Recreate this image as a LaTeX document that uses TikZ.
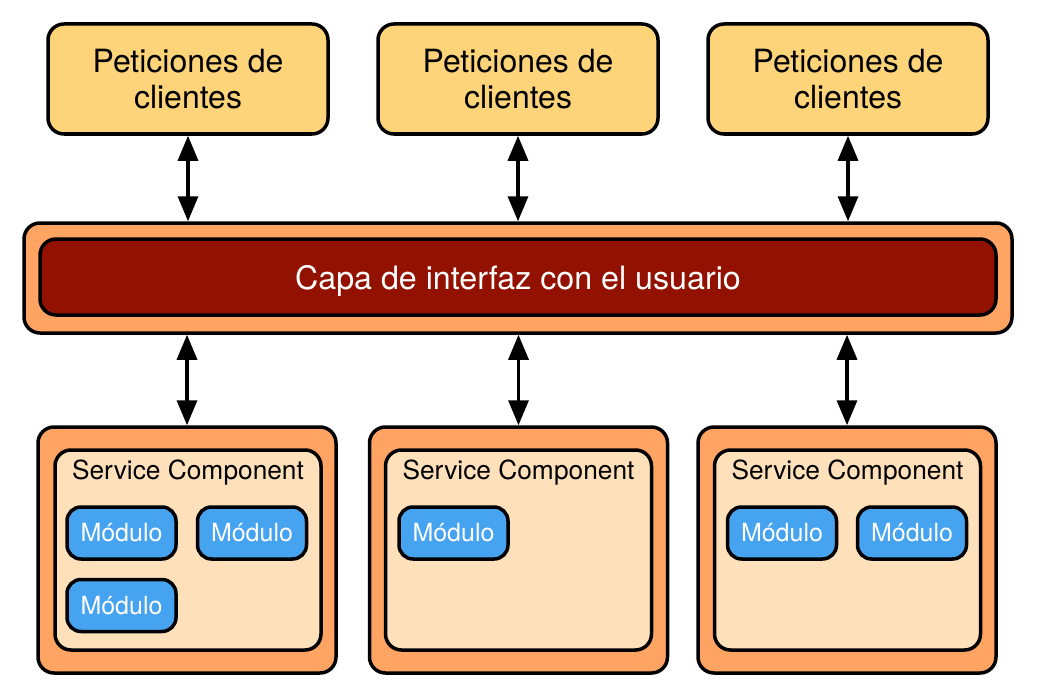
\documentclass[tikz,border=0pt]{standalone}
\usepackage{fontspec}
\setmainfont{TeX Gyre Heros}
\usetikzlibrary{arrows.meta}
\definecolor{clientfill}{HTML}{FDD47A}
\definecolor{layerfill}{HTML}{FFA462}
\definecolor{uifill}{HTML}{931100}
\definecolor{compfill}{HTML}{FEE0BA}
\definecolor{modfill}{HTML}{46A3F0}
\begin{document}
\begin{tikzpicture}[x=1pt,y=-1pt,
    box/.style={draw=black,line width=3.5pt,rounded corners=16pt,inner sep=0pt},
    client/.style={box,fill=clientfill,minimum width=280pt,minimum height=110pt,
      align=center,font=\fontsize{32}{36}\selectfont},
    layer/.style={box,fill=layerfill},
    ui/.style={box,fill=uifill,text=white,minimum width=956pt,minimum height=76pt,
      text depth=0pt,font=\fontsize{32.2}{36}\selectfont},
    comp/.style={box,fill=compfill,minimum width=266pt,minimum height=200pt},
    complabel/.style={font=\fontsize{26.3}{30}\selectfont},
    modulo/.style={box,fill=modfill,text=white,rounded corners=14pt,
      minimum width=109pt,minimum height=52pt,font=\fontsize{25}{28}\selectfont},
    link/.style={line width=3.3pt,{Triangle[width=20pt,length=25pt]}-{Triangle[width=20pt,length=25pt]}}]
  \useasboundingbox (0,0) rectangle (1038,698);
  \node[client] (client1) at (188,79) {Peticiones de\\clientes};
  \node[client] (client2) at (518,79) {Peticiones de\\clientes};
  \node[client] (client3) at (848,79) {Peticiones de\\clientes};
  \node[layer,minimum width=988pt,minimum height=110pt] (layer) at (518,278) {};
  \node[ui] (ui) at (518,277) {Capa de interfaz con el usuario};
  \node[layer,minimum width=298pt,minimum height=246pt] (layer1) at (187,550) {};
  \node[layer,minimum width=298pt,minimum height=246pt] (layer2) at (518.5,550) {};
  \node[layer,minimum width=298pt,minimum height=246pt] (layer3) at (847,550) {};
  \node[comp] (comp1) at (188,550) {};
  \node[comp] (comp2) at (518.5,550) {};
  \node[comp] (comp3) at (847.5,550) {};
  \node[complabel] (label1) at (188,473) {Service Component};
  \node[complabel] (label2) at (518.5,473) {Service Component};
  \node[complabel] (label3) at (847.5,473) {Service Component};
  \node[modulo] (mod11) at (121.5,533) {Módulo};
  \node[modulo] (mod12) at (252,533) {Módulo};
  \node[modulo] (mod13) at (121.5,605.5) {Módulo};
  \node[modulo] (mod21) at (453.5,533) {Módulo};
  \node[modulo] (mod31) at (782,533) {Módulo};
  \node[modulo] (mod32) at (912,533) {Módulo};
  \begin{scope}[link]
    \draw (client1.south) to (client1.south |- layer.north);
    \draw (client2.south) to (client2.south |- layer.north);
    \draw (client3.south) to (client3.south |- layer.north);
    \draw (layer.south -| layer1.north) to (layer1.north);
    \draw (layer.south -| layer2.north) to (layer2.north);
    \draw (layer.south -| layer3.north) to (layer3.north);
  \end{scope}
\end{tikzpicture}
\end{document}
